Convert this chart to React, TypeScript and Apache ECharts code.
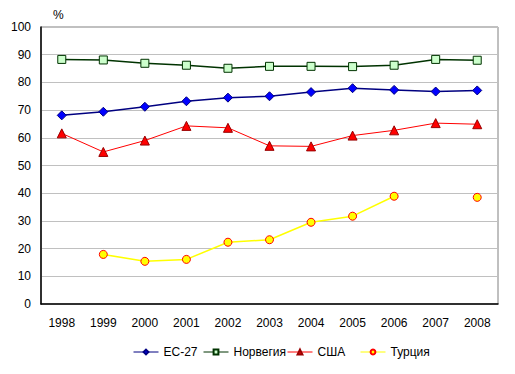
import React, { useEffect, useRef } from "react";
import * as echarts from "echarts";

const categories = ["1998", "1999", "2000", "2001", "2002", "2003", "2004", "2005", "2006", "2007", "2008"];
const eu27 = [68.1, 69.4, 71.2, 73.2, 74.5, 75.0, 76.5, 77.9, 77.3, 76.7, 77.1];
const norway = [88.3, 88.1, 86.9, 86.2, 85.1, 85.8, 85.8, 85.7, 86.2, 88.3, 88.0];
const usa = [61.6, 54.9, 59.0, 64.3, 63.6, 57.1, 56.9, 60.8, 62.7, 65.3, 64.9];
const turkey: (number | null)[] = [null, 17.9, 15.4, 16.1, 22.3, 23.2, 29.5, 31.7, 38.9, null, 38.5];
const seriesNames = ["ЕС-27", "Норвегия", "США", "Турция"];
const legendLefts = [133, 203, 287, 360];

const FONT = "'Liberation Sans', Arial, sans-serif";

export default function App() {
  const ref = useRef<HTMLDivElement>(null);
  useEffect(() => {
    if (!ref.current) return;
    const chart = echarts.init(ref.current, null, { renderer: "svg" });
    chart.setOption({
      animation: false,
      backgroundColor: "#ffffff",
      textStyle: { fontFamily: FONT },
      grid: {
        left: 41,
        right: 17,
        top: 27,
        bottom: 70,
        show: true,
        borderColor: "#808080",
        borderWidth: 1,
        backgroundColor: "transparent",
      },
      graphic: [
        {
          type: "text",
          x: 53,
          y: 9,
          style: { text: "%", fontSize: 12, fontFamily: FONT, fill: "#000" },
        },
      ],
      legend: seriesNames.map((name, i) => ({
        top: 346,
        left: legendLefts[i],
        itemWidth: 25,
        itemHeight: 6,
        itemGap: 0,
        padding: 0,
        lineStyle: { width: 1 },
        textStyle: { fontSize: 12, fontFamily: FONT, color: "#000" },
        data: [name],
      })),
      xAxis: {
        type: "category",
        data: categories,
        boundaryGap: true,
        axisLine: { lineStyle: { color: "#000", width: 1.5 } },
        axisTick: { show: false },
        axisLabel: { color: "#000", fontSize: 12, fontFamily: FONT, margin: 13 },
        splitLine: { show: false },
      },
      yAxis: {
        type: "value",
        min: 0,
        max: 100,
        interval: 10,
        axisLine: { show: true, lineStyle: { color: "#000", width: 1.5 } },
        axisTick: { show: false },
        axisLabel: { color: "#000", fontSize: 12, fontFamily: FONT, margin: 10 },
        splitLine: { lineStyle: { color: "#C0C0C0", width: 1 } },
      },
      series: [
        {
          name: seriesNames[0],
          type: "line",
          data: eu27,
          symbol: "diamond",
          symbolSize: 9,
          lineStyle: { color: "#000080", width: 1.5 },
          itemStyle: { color: "#0000FF", borderColor: "#000080", borderWidth: 1 },
          z: 4,
        },
        {
          name: seriesNames[1],
          type: "line",
          data: norway,
          symbol: "rect",
          symbolSize: 8,
          lineStyle: { color: "#003300", width: 1.5 },
          itemStyle: { color: "#CCFFCC", borderColor: "#003300", borderWidth: 1 },
          z: 3,
        },
        {
          name: seriesNames[2],
          type: "line",
          data: usa,
          symbol: "triangle",
          symbolSize: 9,
          lineStyle: { color: "#FF0000", width: 1 },
          itemStyle: { color: "#FF0000", borderColor: "#990000", borderWidth: 1 },
          z: 3,
        },
        {
          name: seriesNames[3],
          type: "line",
          data: turkey,
          connectNulls: false,
          symbol: "circle",
          symbolSize: 8,
          lineStyle: { color: "#FFFF00", width: 1.5 },
          itemStyle: { color: "#FFFF00", borderColor: "#FF0000", borderWidth: 1 },
          z: 3,
        },
      ],
    });
    return () => chart.dispose();
  }, []);
  return <div ref={ref} style={{ width: 515, height: 374, position: "absolute", left: 0, top: 0 }} />;
}
